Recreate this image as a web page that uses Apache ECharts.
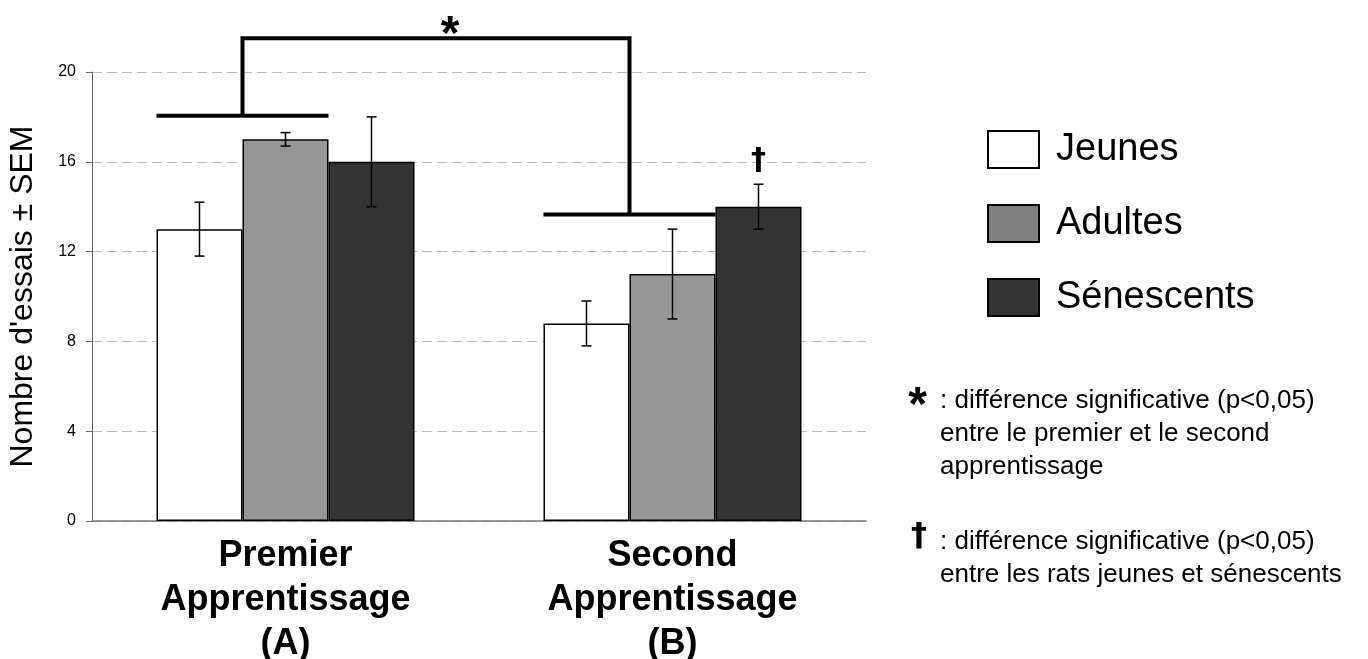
<!DOCTYPE html>
<html>
<head>
<meta charset="utf-8">
<script src="https://cdn.jsdelivr.net/npm/echarts@6/dist/echarts.min.js"></script>
<style>
html,body{margin:0;padding:0;background:#fff;}
#chart{width:1368px;height:659px;}
</style>
</head>
<body>
<div id="chart"></div>
<script>
// ---- data ----
var categories = ['Premier\nApprentissage\n(A)', 'Second\nApprentissage\n(B)'];
var seriesNames = ['Jeunes', 'Adultes', 'Sénescents'];
var jeunes = [13.0, 8.8];
var adultes = [17.0, 11.0];
var senescents = [16.0, 14.0];
var jeunesErr = [[11.8, 14.2], [7.8, 9.8]];
var adultesErr = [[16.7, 17.3], [9.0, 13.0]];
var senescentsErr = [[14.0, 18.0], [13.0, 15.0]];
var yMin = 0, yMax = 20, yInterval = 4;
// significance bracket levels: first learning, top connector, second learning
var bracketLevels = [18.05, 21.5, 13.65];
// dagger marks: [category index, series index]
var daggerMarks = [[1, 2]];

var FONT = "'Liberation Sans', Arial, Helvetica, sans-serif";
var SYMFONT = "'DejaVu Sans', 'Liberation Sans', sans-serif";
var barColors = ['#ffffff', '#969696', '#333333'];
var legendColors = ['#ffffff', '#808080', '#333333'];
var BAR_FRAC = 2 / 9;

var errData = [];
[jeunesErr, adultesErr, senescentsErr].forEach(function (arr, s) {
  arr.forEach(function (e, c) {
    var dag = daggerMarks.some(function (d) { return d[0] === c && d[1] === s; }) ? 1 : 0;
    errData.push([c, s, e[0], e[1], dag]);
  });
});

function renderErr(params, api) {
  var c = api.value(0), s = api.value(1);
  var band = api.size([1, 0])[0];
  var bw = band * BAR_FRAC;
  var x = api.coord([c, 0])[0] + (s - 1) * bw;
  var yl = api.coord([c, api.value(2)])[1];
  var yh = api.coord([c, api.value(3)])[1];
  var st = { stroke: '#000', lineWidth: 1.5 };
  var children = [
    { type: 'line', shape: { x1: x, y1: yl, x2: x, y2: yh }, style: st },
    { type: 'line', shape: { x1: x - 5, y1: yl, x2: x + 5, y2: yl }, style: st },
    { type: 'line', shape: { x1: x - 5, y1: yh, x2: x + 5, y2: yh }, style: st }
  ];
  if (api.value(4)) {
    children.push({ type: 'text', style: { text: '†', x: x, y: yh - 23, align: 'center', verticalAlign: 'middle', font: 'bold 30px ' + SYMFONT, fill: '#000' } });
  }
  return { type: 'group', children: children };
}

function renderBracket(params, api) {
  if (params.dataIndex !== 0) return;
  var band = api.size([1, 0])[0];
  var bw = band * BAR_FRAC;
  var ax = api.coord([0, 0])[0], bx = api.coord([1, 0])[0];
  var y1 = api.coord([0, bracketLevels[0]])[1];
  var yt = api.coord([0, bracketLevels[1]])[1];
  var y2 = api.coord([1, bracketLevels[2]])[1];
  var st = { stroke: '#000', lineWidth: 4, fill: null };
  var vA = ax - 0.5 * bw, vB = bx - 0.5 * bw;
  return {
    type: 'group',
    children: [
      { type: 'line', shape: { x1: ax - 1.5 * bw, y1: y1, x2: ax + 0.5 * bw, y2: y1 }, style: st },
      { type: 'polyline', shape: { points: [[vA, y1], [vA, yt], [vB, yt], [vB, y2]] }, style: st },
      { type: 'line', shape: { x1: bx - 1.5 * bw, y1: y2, x2: bx + 0.5 * bw, y2: y2 }, style: st },
      { type: 'text', style: { text: '*', x: (vA + vB) / 2 + 14, y: yt - 3, align: 'center', verticalAlign: 'middle', font: 'bold 48px ' + FONT, fill: '#000' } }
    ]
  };
}

var chart = echarts.init(document.getElementById('chart'), null, { renderer: 'canvas' });

function barSeries(name, data, idx) {
  return {
    name: name, type: 'bar', data: data,
    barWidth: (BAR_FRAC * 100) + '%', barGap: '0%',
    itemStyle: { color: barColors[idx], borderColor: '#000', borderWidth: 1.5 },
    emphasis: { disabled: true }, z: 2
  };
}

chart.setOption({
  animation: false,
  backgroundColor: '#fff',
  textStyle: { fontFamily: FONT },
  grid: { left: 92, top: 72, width: 774, height: 449, containLabel: false, outerBoundsMode: 'none' },
  legend: {
    orient: 'vertical', left: 987, top: 130, padding: 0,
    itemWidth: 51, itemHeight: 37, itemGap: 35,
    icon: 'rect',
    selectedMode: false,
    itemStyle: { borderColor: '#000', borderWidth: 2 },
    textStyle: { fontSize: 38, color: '#000', fontFamily: FONT, lineHeight: 37, padding: [0, 0, 0, 12] },
    data: seriesNames.map(function (n, i) { return { name: n, itemStyle: { color: legendColors[i], borderColor: '#000', borderWidth: 2 } }; })
  },
  xAxis: {
    type: 'category', data: categories,
    axisLine: { lineStyle: { color: '#777', width: 1.5 } },
    axisTick: { show: false },
    axisLabel: { fontSize: 36, fontWeight: 'bold', color: '#000', lineHeight: 44, margin: 13, fontFamily: FONT, interval: 0 }
  },
  yAxis: {
    type: 'value', min: yMin, max: yMax, interval: yInterval,
    name: "Nombre d'essais ± SEM", nameLocation: 'middle', nameRotate: 90, nameGap: 53,
    nameTextStyle: { fontSize: 32, color: '#000', fontFamily: FONT },
    axisLine: { show: true, lineStyle: { color: '#666', width: 1 } },
    axisTick: { show: true, length: 6, lineStyle: { color: '#666' } },
    axisLabel: { fontSize: 16, color: '#000', margin: 16, fontFamily: FONT },
    splitLine: { show: true, lineStyle: { color: '#bbbbbb', type: [10, 5], width: 1 } }
  },
  series: [
    barSeries(seriesNames[0], jeunes, 0),
    barSeries(seriesNames[1], adultes, 1),
    barSeries(seriesNames[2], senescents, 2),
    { type: 'custom', name: 'err', renderItem: renderErr, data: errData, z: 3, silent: true, clip: false,
      encode: { x: 0, y: [2, 3] } },
    { type: 'custom', name: 'bracket', renderItem: renderBracket, data: [[0, bracketLevels[1]]], z: 4, silent: true, clip: false,
      encode: { x: 0, y: 1 } }
  ],
  graphic: [
    { type: 'text', x: 917.5, y: 407, style: { text: '*', font: 'bold 48px ' + FONT, fill: '#000', align: 'center', verticalAlign: 'middle' } },
    { type: 'text', x: 940, y: 384, style: { text: ': différence significative (p<0,05)\nentre le premier et le second\napprentissage', font: '26px ' + FONT, lineHeight: 33, fill: '#000' } },
    { type: 'text', x: 919, y: 537, style: { text: '†', font: 'bold 32px ' + SYMFONT, fill: '#000', align: 'center', verticalAlign: 'middle' } },
    { type: 'text', x: 940, y: 525.5, style: { text: ': différence significative (p<0,05)\nentre les rats jeunes et sénescents', font: '26px ' + FONT, lineHeight: 33, fill: '#000' } }
  ]
});
</script>
</body>
</html>
